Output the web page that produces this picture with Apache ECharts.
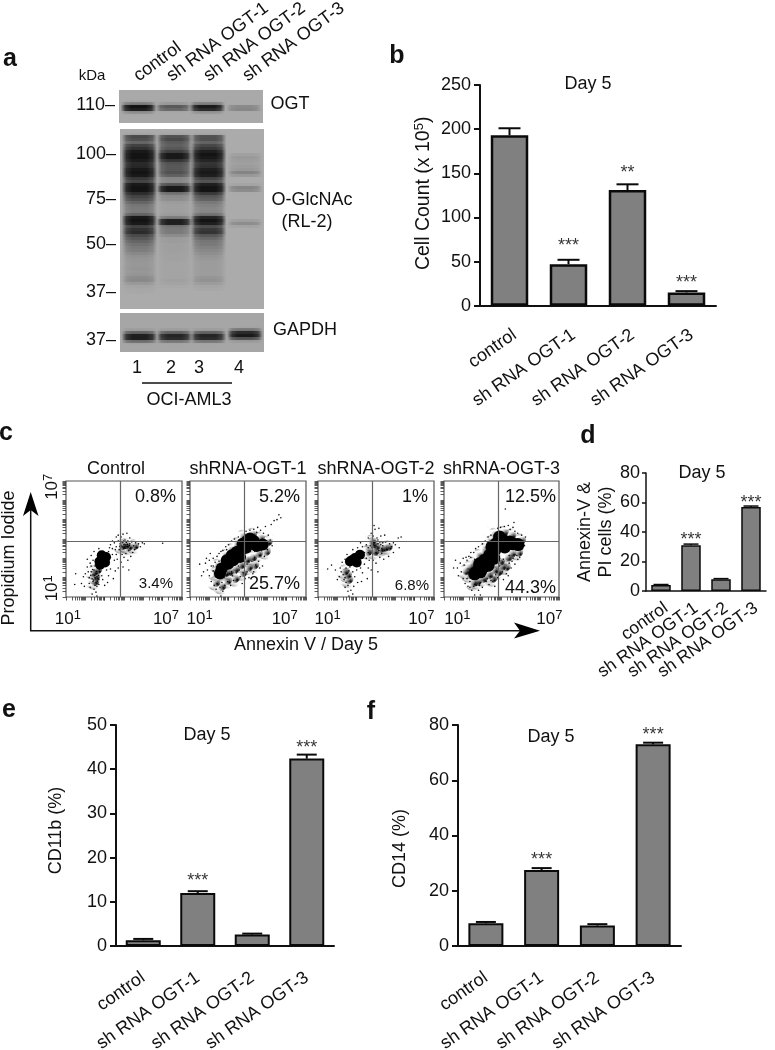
<!DOCTYPE html>
<html><head><meta charset="utf-8"><style>html,body{margin:0;padding:0;background:#fff}#c{width:775px;height:1050px}</style>
<script src="https://cdn.jsdelivr.net/npm/echarts@6/dist/echarts.min.js"></script></head>
<body><div id="c"></div><script>
const categories=['control','sh RNA OGT-1','sh RNA OGT-2','sh RNA OGT-3'];
const FONT='Liberation Sans';
// panel b
const countMean=[193,47,131,15], countHigh=[201,52,137.5,16.5], countStars=[null,'***','**','***'], countStarY=[null,67.6,150,25.6];
// panel d
const apoMean=[4,31,8,57], apoHigh=[4.4,31.8,8.4,57.6], apoStars=[null,'***',null,'***'], apoStarY=[null,34.6,null,59.7];
// panel e
const cd11Mean=[1.3,12,2.6,42.4], cd11High=[1.6,12.4,2.8,43.3], cd11Stars=[null,'***',null,'***'], cd11StarY=[null,14.7,null,44.8];
// panel f
const cd14Mean=[8.2,27.5,7.4,73], cd14High=[8.7,28.2,7.9,73.6], cd14Stars=[null,'***',null,'***'], cd14StarY=[null,31.1,null,76.4];
// panel a: band darkness per 3px row, per lane
const laneCenters=[19.5,54.5,88.5,125];
const ogtRows=[
 [0,0,0,0,.2,1,.9,.1,0,0,0],
 [0,0,0,0,.08,.5,.4,0,0,0,0],
 [0,0,0,0,.2,.95,.8,.08,0,0,0],
 [0,0,0,0,0,.2,.22,0,0,0,0]];
const glcRows=[
 [0,0,.6,.55,.4,.65,.75,.95,1,1,.92,.8,.82,.95,1,.95,.7,.6,.95,1,1,.78,.62,.55,.42,.32,.3,.28,.4,.95,1,.95,.62,.75,.8,.58,.5,.42,.35,.3,.28,.22,.16,.14,.13,.13,.14,.13,.14,.2,.22,.12,.05,.03,.02,0,0,0,0,0],
 [0,0,.55,.6,.48,.45,.5,.65,.95,.95,.72,.52,.5,.5,.55,.45,.22,.2,.5,.95,.95,.3,.2,.18,.1,.08,.08,.08,.1,.25,.9,.9,.3,.3,.3,.2,.1,.1,.08,.08,.08,.07,.06,.06,.05,.05,.05,.05,.05,.05,.07,.05,.02,0,0,0,0,0,0,0],
 [0,0,.55,.55,.42,.6,.7,.9,1,.95,.85,.72,.75,.9,.95,.9,.62,.5,.9,1,1,.68,.5,.45,.3,.25,.22,.22,.32,.85,1,.9,.55,.7,.75,.5,.4,.32,.3,.26,.22,.18,.14,.12,.1,.1,.1,.1,.1,.14,.16,.1,.04,.02,0,0,0,0,0,0],
 [0,0,0,0,0,0,0,0,.07,.12,.1,.08,.1,.12,.25,.12,0,0,.04,.24,.2,0,0,0,0,0,0,0,0,0,.08,.2,.05,0,0,0,0,0,0,0,0,0,0,0,0,0,0,0,0,0,0,0,0,0,0,0,0,0,0,0]];
const gapdhRows=[
 [0,0,0,0,0,.05,.4,.9,.9,.3,0,0,0],
 [0,0,0,0,0,.05,.4,.85,.8,.25,0,0,0],
 [0,0,0,0,0,.05,.4,.85,.8,.25,0,0,0],
 [0,0,0,0,0,.25,.8,.95,.5,.05,0,0,0]];
const ogtKda=[[5,'110']], glcKda=[[8.4,'100'],[23.2,'75'],[38.5,'50'],[54.5,'37']], gapdhKda=[[8.9,'37']];
const laneNumbers=['1','2','3','4'];
// panel c: quadrant gates (decades)
const gateX=3.83, gateY=3.89;
const flowTitles=['Control','shRNA-OGT-1','shRNA-OGT-2','shRNA-OGT-3'];
const upperPct=['0.8%','5.2%','1%','12.5%'], lowerPct=['3.4%','25.7%','6.8%','44.3%'];
// hand-read events (decades): core = solid black area, mid = stippled area, dots = single events
const core1=[[2.9,2.95],[2.73,2.84],[3.07,3.07],[2.85,3.16],[2.76,2.67],[3.02,2.78]];
const mid1=[[2.5,2.1],[2.45,1.85],[2.4,2.35],[2.6,2.45],[4.05,3.75],[3.85,3.7],[4.2,3.65],[4.5,3.7]];
const dots1=[[2.5,2],[2.4,1.8],[2.6,2.2],[2.3,2.3],[2.5,1.6],[2.7,1.9],[2.2,2],[2.45,2.4],[2.65,2.5],[2.35,1.95],[2.55,1.75],[2.75,2.3],[2.15,2.3],[2.5,2.6],[2.3,2.6],[2.4,2.15],[2.6,1.55],[2.45,1.4],[2.55,1.25],[2.35,1.15],[2.7,1.65],[2.85,2.1],[2.9,1.9],[2.1,2.55],[2,2.2],[1.9,2.05],[1.8,1.7],[1.5,2.2],[1.45,1.65],[1.95,1.55],[2.2,1.7],[2.25,1.5],[2.6,2.05],[2.42,1.88],[2.52,1.93],[2.48,2.12],[2.58,2.32],[2.38,2.42],[2.28,2.12],[2.62,1.82],[2.68,2.12],[2.72,2.42],[2.8,2.55],[3.3,3.7],[3.4,3.5],[3.5,3.8],[3.6,3.6],[3.7,3.9],[3.75,3.45],[3.8,3.75],[3.85,4.1],[3.9,3.6],[3.95,3.85],[4,3.5],[4.05,3.95],[4.1,3.7],[4.15,3.6],[4.2,3.9],[4.25,3.4],[4.3,3.75],[4.35,3.55],[4.4,3.85],[4.5,3.65],[4.55,3.45],[4.6,3.8],[4.7,3.55],[4.75,3.75],[4.85,3.6],[4.95,3.8],[5.05,3.75],[3.6,4.1],[3.95,4.25],[4.15,4.3],[4.3,4.05],[3.7,4.2],[4.45,3.3],[3.9,3.2],[3.6,3.2],[3.4,3.2],[3.3,3.05],[3.5,2.9],[3.65,2.95],[3.2,3.35],[3.85,2.8],[4,3.05],[4.1,3.25],[4.2,2.9],[4.35,3.1],[3.95,2.55],[3.7,2.5],[3.55,2.35],[3.3,2.45],[3.2,2.1],[3.45,1.95],[4.25,2.4],[3.15,1.75],[3,1.6],[6,3.78],[4,3.72],[4.05,3.62],[3.9,3.8],[3.85,3.68],[4.12,3.82],[4.18,3.72],[3.98,3.9],[4.28,3.66],[3.78,3.62],[4.08,3.52],[3.4,3.9],[3.55,3.45],[3.25,3.55],[3.15,3.2],[3.1,2.4],[3.2,2.7],[2.4,2.9],[2.25,2.75],[2.1,2.95],[2.3,3.15],[2.45,3.35],[2.7,3.5],[2.6,1.05]];
const core2=[[2.9,2.9],[3.16,3.16],[3.41,3.33],[3.24,2.9],[2.98,2.72],[3.67,3.47],[3.93,3.88],[4.19,3.76],[4.45,3.64],[4.76,3.71],[4.1,4.02],[3.72,3.76],[3.59,3.07],[2.55,2.21],[2.64,2.47],[3.45,3.1],[3.9,3.55],[4.3,3.9]];
const mid2=[[2.3,2.3],[2.8,2.3],[3,2.35],[3.3,2.5],[3.6,2.7],[3.9,3],[4.2,3.1],[4,2.6],[4.5,3.3],[2.4,2.7],[2.8,3.2],[3.1,3.5],[3.4,3.8],[3.7,4.2],[4.2,4.3],[4.6,4.1],[5,3.9],[3.3,2],[2.9,1.9],[2.3,1.8],[2.6,1.6],[3.7,2.3],[4.3,2.7],[4.9,3.4]];
const dots2=[[1.5,2.7],[1.7,2.3],[1.8,2.75],[1.9,2.4],[2,2.9],[2,2.1],[2.1,2.6],[2.1,1.8],[2.2,3],[2.2,2.35],[2.25,1.6],[2.3,2.8],[2.35,1.4],[2.4,3.1],[2.4,1.7],[2.5,3.25],[2.5,2.85],[2.55,1.5],[2.6,3.35],[2.65,1.75],[2.7,1.3],[2.7,3.4],[2.75,2],[2.8,1.6],[2.85,3.6],[2.9,2.1],[2.95,1.8],[3,3.7],[3.05,2.2],[3.1,1.6],[3.15,3.9],[3.2,2.1],[3.25,1.85],[3.3,4],[3.4,2.25],[3.45,1.9],[3.5,4.1],[3.55,2.4],[3.6,2.05],[3.7,1.7],[3.75,2.25],[3.8,2.55],[3.85,1.95],[3.9,4.4],[3.95,2.3],[4,2.85],[4.05,2],[4.1,4.45],[4.15,2.5],[4.2,2.85],[4.3,4.5],[4.3,2.3],[4.35,3.05],[4.4,2.65],[4.45,4.35],[4.5,4.6],[4.55,2.85],[4.6,3.15],[4.65,4.45],[4.7,3.4],[4.75,2.6],[4.8,4.3],[4.85,3.1],[4.9,4.65],[5,3.45],[5.05,4.2],[5.1,3.75],[5.15,3.95],[5.2,4.75],[5.25,3.65],[5.35,4.95],[5.5,5],[5.6,5.25],[5.7,5.1],[2.6,1.05],[2.35,2.05],[2.45,2.55],[2.2,2.6],[2.75,2.65],[2.95,2.45],[3.1,2.6],[3.35,2.7],[3.5,2.95],[3.75,2.95],[3.9,3.3],[4.1,3.35],[4.35,3.35],[2.05,3.25],[1.85,3],[1.6,2.1],[2.9,3.45],[3.15,2.3],[3.5,2.6],[3.95,2.7],[4.25,2.2],[4.6,2.5]];
const core3=[[2.65,2.84],[2.91,3.02],[3.17,3.19],[3,2.78],[2.78,2.92]];
const mid3=[[3.96,3.67],[3.8,3.8],[4.2,3.55],[4.4,3.6],[3.9,3.4],[3.55,3.4],[3.75,3.95],[2.48,2.21],[2.55,1.95],[2.35,2.4],[4.6,3.65]];
const dots3=[[2.5,2.2],[2.4,2],[2.6,2.35],[2.3,2.15],[2.45,1.75],[2.7,2.05],[2.2,2.3],[2.45,2.5],[2.65,2.55],[2.35,1.9],[2.55,1.6],[2.8,2.3],[2.15,2.5],[2.55,1.3],[2.4,1.5],[2.1,2.05],[2,1.9],[1.9,2.4],[1.7,2.65],[1.5,2.45],[2.9,2.05],[3.05,1.75],[2.85,1.55],[2.7,1.35],[3.3,3.6],[3.4,3.3],[3.5,3.7],[3.6,3.55],[3.7,3.2],[3.8,3.55],[3.85,4.15],[3.9,3.85],[4,3.3],[4.05,4.05],[4.1,3.75],[4.15,3.4],[4.2,3.85],[4.3,3.25],[4.35,3.8],[4.45,3.4],[4.5,3.85],[4.6,3.45],[4.7,3.75],[4.8,3.6],[4.9,3.8],[5,3.7],[5.2,3.55],[5.15,4.05],[3.6,4.05],[3.75,4.3],[3.95,4.5],[4.15,4.55],[4.25,4.15],[4.45,4.2],[3.3,3.15],[3.5,3],[3.65,2.9],[3.85,2.9],[4,2.75],[4.2,3.05],[4.4,2.95],[3.4,2.7],[3.6,2.5],[3.2,2.5],[3.3,2.25],[3.75,2.4],[4.1,2.3],[3,2.4],[3.15,2.6],[2.4,2.95],[2.25,2.8],[2.5,3.2],[2.8,3.45],[3.05,3.55],[3.2,3.8],[4.65,3.1],[4.9,3.3],[5.3,4.1],[3.55,1.95],[3.25,1.8],[3.9,4.7],[2.6,1.05],[2.8,1.15],[3.85,3.7],[3.95,3.55],[4.05,3.6],[4.25,3.7],[4.3,3.5],[3.7,3.65],[3.6,3.3],[4.1,3.95],[4.35,3.65]];
const core4=[[2.77,2.38],[2.86,2.72],[3.12,2.9],[3.38,3.16],[3.64,3.41],[3.73,3.76],[4.08,3.93],[4.43,3.84],[4.86,3.71],[4.17,3.59],[3.9,4.1],[3.3,2.64],[2.6,2.2],[2.9,2.3],[3.6,3],[3.05,2.55],[3.9,3.65],[4.6,3.75],[3.5,3.6]];
const mid4=[[4,2.64],[3.6,2.45],[3.9,2.9],[4.3,3.1],[4.5,3.3],[4.2,2.6],[3.3,2.2],[3,2],[2.5,1.8],[2.3,2.2],[2.3,2.6],[2.5,2.8],[2.8,3.2],[3.1,3.5],[3.4,3.9],[3.6,4.3],[4.1,4.4],[4.5,4.25],[5,4],[4.85,3.35],[3.5,2],[2.7,1.85],[2.1,2.4],[3.8,2.35]];
const dots4=[[1.6,2.9],[1.7,2.5],[1.75,2.1],[1.85,2.75],[1.9,2.3],[2,1.95],[2,3],[2.05,2.65],[2.1,1.7],[2.15,3.05],[2.2,1.95],[2.25,1.55],[2.3,3.1],[2.35,1.5],[2.4,3.3],[2.45,1.35],[2.55,3.3],[2.55,1.55],[2.65,3.5],[2.7,1.6],[2.8,1.35],[2.8,3.6],[2.9,1.75],[3,3.75],[3,1.5],[3.15,3.9],[3.2,1.8],[3.3,4.1],[3.35,1.65],[3.45,4.2],[3.55,1.8],[3.65,1.55],[3.8,2],[3.8,4.55],[3.95,4.6],[3.9,2.15],[4.05,2.3],[4.1,1.9],[4.15,4.65],[4.25,2.2],[4.3,2.45],[4.35,4.7],[4.4,2.75],[4.45,4.5],[4.5,2.5],[4.6,4.6],[4.6,3],[4.7,4.4],[4.7,2.7],[4.8,3.15],[4.85,4.3],[4.95,3.05],[5.05,4.2],[5.1,3.5],[5.15,3.85],[5.2,3.65],[5.25,4.1],[4.2,5.55],[4.65,4.85],[1.5,2.5],[2.6,1.1],[2.9,1.1],[2.2,2.9],[2.4,3.05],[2.15,2.2],[2.45,2.45],[2.6,2.95],[2.95,2.85],[3.25,3.3],[3.5,3.55],[3.9,2.6],[4.1,2.95],[4.4,3.15],[4.7,3.2],[3.25,1.95],[3.45,1.85],[3.7,2.15],[2.85,1.6],[2.6,1.65],[2.35,1.8],[4.55,2.85],[4.35,2.1],[4.85,2.95]];
const flowSets=[[core1,mid1,dots1],[core2,mid2,dots2],[core3,mid3,dots3],[core4,mid4,dots4]];
const flowTickDecades=[1,2,3,4,5,6], flowTickSteps=[1,2,3,4,5,6,7,8,9];
const label1Pos=[1.1,1.5,1.5,1.7], label7Pos=[6.17,5.9,6.35,6.5];
const coreSizes=[10,12,10,13];
// stipple tiles for the dense dot areas
const stippleA=[[1,2],[4,1],[8,0],[12,2],[15,1],[2,5],[6,4],[10,5],[13,6],[0,8],[4,8],[8,7],[11,9],[15,8],[2,11],[6,11],[9,12],[13,11],[1,14],[5,14],[10,15],[14,14]];
const stippleB=[[0,0],[3,0],[6,1],[9,0],[12,1],[14,3],[1,3],[4,3],[7,3],[10,3],[2,6],[5,6],[8,5],[11,6],[14,6],[0,9],[3,9],[6,8],[9,9],[12,8],[15,10],[1,12],[4,11],[7,12],[10,11],[13,12],[3,14],[6,14],[9,15],[12,14],[15,14]];
function tile(pts){const c=document.createElement('canvas');c.width=c.height=16;const x=c.getContext('2d');x.fillStyle='#000';pts.forEach(p=>x.fillRect(p[0],p[1],1,1));return{image:c,repeat:'repeat'};}

const boxes=[[66,116],[190,116],[318,116],[444,115]];
const grid=[],xAxis=[],yAxis=[],series=[],graphic=[];
function txt(x,y,text,size,opt={}){graphic.push({type:'text',x,y,rotation:opt.rot||0,silent:true,style:{text,x:0,y:0,fontSize:size,fontFamily:FONT,fontWeight:opt.bold?'bold':'normal',fill:'#111',textAlign:opt.align||'center',textVerticalAlign:opt.va||'middle'}});}

// ---------- bar panels
function barPanel(p){
 const i=grid.length;
 grid.push({left:p.left,top:p.top,width:p.width,height:p.height,containLabel:false,outerBoundsMode:'none'});
 xAxis.push({gridIndex:i,type:'category',data:categories,axisTick:{alignWithLabel:true,length:p.tick,lineStyle:{width:p.lw,color:'#111'}},axisLine:{onZero:false,lineStyle:{width:p.lw,color:'#111'}},axisLabel:{interval:0,rotate:p.rot,verticalAlign:p.catVa||'middle',fontSize:p.catSize,fontFamily:FONT,color:'#111',margin:p.catMargin,hideOverlap:false}});
 yAxis.push({gridIndex:i,type:'value',min:0,max:p.max,interval:p.interval,splitLine:{show:false},axisLine:{show:true,lineStyle:{width:p.lw,color:'#111'}},axisTick:{show:true,length:p.tick,lineStyle:{width:p.lw,color:'#111'}},axisLabel:{fontSize:18,fontFamily:FONT,color:'#111',margin:p.numMargin},name:p.name,nameLocation:'middle',nameGap:p.nameGap,nameRotate:90,nameTextStyle:{fontSize:p.nameSize||18,fontFamily:FONT,color:'#111',lineHeight:21,padding:p.namePad||0,rich:{sup:{fontSize:13,fontFamily:FONT,color:'#111',verticalAlign:'bottom',padding:[0,0,8,0]}}}});
 series.push({type:'bar',xAxisIndex:i,yAxisIndex:i,data:p.mean,barWidth:p.barW,itemStyle:{color:'#808080',borderColor:'#0a0a0a',borderWidth:p.barLw||p.lw},silent:true,z:2});
 series.push({type:'custom',xAxisIndex:i,yAxisIndex:i,z:3,silent:true,data:p.mean.map((m,k)=>[k,m,p.high[k]]),encode:{x:0,y:[1,2]},
  renderItem(par,api){const a=api.coord([api.value(0),api.value(1)]),b=api.coord([api.value(0),api.value(2)]),h=p.cap/2,st={stroke:'#0a0a0a',lineWidth:p.lw,fill:null};
   return{type:'group',children:[{type:'line',shape:{x1:a[0],y1:a[1],x2:b[0],y2:b[1]},style:st},{type:'line',shape:{x1:b[0]-h,y1:b[1],x2:b[0]+h,y2:b[1]},style:st}]};}});
 series.push({type:'scatter',xAxisIndex:i,yAxisIndex:i,symbolSize:0,silent:true,z:4,data:p.stars.map((s,k)=>s?{value:[k,p.starY[k]],star:s}:null).filter(Boolean),label:{show:true,position:'inside',fontSize:18,fontFamily:FONT,color:'#000',formatter:q=>q.data.star}});
 txt(p.titleX,p.titleY,'Day 5',18);
}
barPanel({left:480,top:85,width:236,height:220.7,max:250,interval:50,mean:countMean,high:countHigh,stars:countStars,starY:countStarY,name:'Cell Count (x 10{sup|5})',nameSize:19.5,namePad:[0,0,0,4],nameGap:46,barW:37.5,cap:22,lw:2,barLw:2.5,tick:6,rot:35,catVa:'top',catSize:18,catMargin:20,numMargin:9,titleX:588,titleY:84});
barPanel({left:646,top:473,width:120,height:118,max:80,interval:20,mean:apoMean,high:apoHigh,stars:apoStars,starY:apoStarY,name:'Annexin-V &\nPI cells (%)',nameGap:29,barW:19.5,cap:15,lw:1.5,tick:4,rot:35,catVa:'top',catSize:17.5,catMargin:8,numMargin:6,titleX:702,titleY:473});
barPanel({left:116,top:725,width:218,height:221,max:50,interval:10,mean:cd11Mean,high:cd11High,stars:cd11Stars,starY:cd11StarY,name:'CD11b (%)',namePad:[0,0,0,10],nameGap:49,barW:35,cap:20,lw:2,tick:6,rot:35,catSize:18,catMargin:30,numMargin:9,titleX:207,titleY:735});
barPanel({left:458,top:725,width:223,height:221,max:80,interval:20,mean:cd14Mean,high:cd14High,stars:cd14Stars,starY:cd14StarY,name:'CD14 (%)',namePad:[0,26,0,0],nameGap:47,barW:35,cap:20,lw:2,tick:6,rot:35,catSize:18,catMargin:30,numMargin:9,titleX:551,titleY:737});

// ---------- blots
function blot(p){
 const i=grid.length,n=p.rows[0].length;
 grid.push({left:p.left,top:p.top,width:p.width,height:n*3,show:true,backgroundColor:p.bg,borderWidth:0,outerBoundsMode:'none'});
 xAxis.push({gridIndex:i,type:'value',min:0,max:p.width,show:false});
 yAxis.push({gridIndex:i,type:'value',inverse:true,min:0,max:n,splitLine:{show:false},axisLine:{show:false},axisTick:{show:false},axisLabel:{show:true,customValues:p.kda.map(k=>k[0]),fontSize:18,fontFamily:FONT,color:'#111',margin:4,formatter:(v)=>{const k=p.kda.find(q=>q[0]===v);return k?k[1]+'–':'';}}});
 const data=[];p.rows.forEach((r,l)=>r.forEach((d,row)=>{if(d>0)data.push([laneCenters[l],row,d]);}));
 series.push({type:'custom',xAxisIndex:i,yAxisIndex:i,silent:true,data,encode:{x:0,y:1},renderItem(par,api){
  const c=api.value(0),row=api.value(1),d=api.value(2),a=api.coord([c-18,row]),b=api.coord([c+18,row+1]),rgb='14,14,14';
  return{type:'rect',shape:{x:a[0],y:a[1],width:b[0]-a[0],height:b[1]-a[1]},style:{shadowBlur:4,shadowColor:`rgba(${rgb},${d*.45})`,fill:new echarts.graphic.LinearGradient(0,0,1,0,[{offset:0,color:`rgba(${rgb},0)`},{offset:.14,color:`rgba(${rgb},${d*.75})`},{offset:.3,color:`rgba(${rgb},${d*.95})`},{offset:.7,color:`rgba(${rgb},${d*.95})`},{offset:.86,color:`rgba(${rgb},${d*.75})`},{offset:1,color:`rgba(${rgb},0)`}])}};}});
}
blot({left:119,top:90,width:144,rows:ogtRows,kda:ogtKda,bg:'#a9a9a9'});
blot({left:120,top:129,width:144,rows:glcRows,kda:glcKda,bg:'#ababab'});
blot({left:120,top:313,width:144,rows:gapdhRows,kda:gapdhKda,bg:'#a6a6a6'});

// ---------- flow panels
const flowTicks=flowTickDecades.flatMap(d=>flowTickSteps.map(s=>d+Math.log10(s))).concat([7]);
function sup(v){return '10{s|'+v+'}';}
const richSup={s:{fontSize:13,fontFamily:FONT,color:'#111',verticalAlign:'bottom',padding:[0,0,7,0]}};
const tileA=tile(stippleA),tileB=tile(stippleB);
boxes.forEach((bx,k)=>{
 const i=grid.length;
 grid.push({left:bx[0],top:481,width:bx[1],height:116,show:true,borderColor:'#555',borderWidth:1.2,backgroundColor:'#fff',outerBoundsMode:'none'});
 xAxis.push({gridIndex:i,type:'value',min:1,max:7,splitLine:{show:false},axisLine:{show:false},axisTick:{show:true,customValues:flowTicks,length:3.5,lineStyle:{color:'#333',width:.8}},axisLabel:{show:true,customValues:[label1Pos[k],label7Pos[k]],fontSize:17,fontFamily:FONT,color:'#111',margin:12,rich:richSup,formatter:v=>sup(v<3?1:7)}});
 yAxis.push({gridIndex:i,type:'value',min:1,max:7,splitLine:{show:false},axisLine:{show:false},axisTick:{show:true,customValues:flowTicks,length:3.5,lineStyle:{color:'#333',width:.8}},axisLabel:{show:k===0,customValues:[1.45,6.7],rotate:90,fontSize:17,fontFamily:FONT,color:'#111',margin:4,rich:richSup,formatter:v=>sup(v<3?1:7)}});
 const [core,mid,dots]=flowSets[k];
 series.push({type:'scatter',xAxisIndex:i,yAxisIndex:i,data:dots,symbolSize:1.6,itemStyle:{color:'#111',opacity:1},silent:true,z:2,
  markLine:{silent:true,symbol:'none',label:{show:false},lineStyle:{color:'#666',width:1.2,type:'solid'},data:[{xAxis:gateX},{yAxis:gateY}],z:5}});
 series.push({type:'scatter',xAxisIndex:i,yAxisIndex:i,data:mid,symbolSize:18,itemStyle:{color:tileA,opacity:1},silent:true,z:2});
 series.push({type:'scatter',xAxisIndex:i,yAxisIndex:i,data:mid,symbolSize:11,itemStyle:{color:tileB,opacity:1},silent:true,z:2});
 series.push({type:'scatter',xAxisIndex:i,yAxisIndex:i,data:core,symbolSize:coreSizes[k],itemStyle:{color:'#000',opacity:1},silent:true,z:3});
 txt(bx[0]+bx[1]/2-(k===0?8:0),469,flowTitles[k],18);
});
const uppX=[176,300,428,556],lowX=[173,300,429,556],lowS=[15,18,15,18],lowY=[584,584,586,588];
upperPct.forEach((t,k)=>txt(uppX[k],497,t,18,{align:'right'}));
lowerPct.forEach((t,k)=>txt(lowX[k],lowY[k],t,lowS[k],{align:'right'}));
txt(9,558,'Propidium Iodide',18,{rot:Math.PI/2});
txt(306,645,'Annexin V / Day 5',18);
graphic.push({type:'polyline',silent:true,shape:{points:[[30.7,510],[30.7,630.7],[520,630.7]]},style:{stroke:'#111',lineWidth:1.5,fill:null}});
graphic.push({type:'polygon',silent:true,shape:{points:[[30.7,492],[38.5,516],[30.7,510],[23,516]]},style:{fill:'#000'}});
graphic.push({type:'polygon',silent:true,shape:{points:[[540,630.7],[514,638.5],[520,630.7],[514,622.5]]},style:{fill:'#000'}});

// ---------- panel a text
const letters=[['a',10,59],['b',397,56],['c',6,433],['d',588,436],['e',9,710],['f',371,712]];
letters.forEach(l=>txt(l[1],l[2],l[0],25,{bold:true}));
txt(92,76,'kDa',15);
[['control',141],['sh RNA OGT-1',174],['sh RNA OGT-2',211],['sh RNA OGT-3',250]].forEach(h=>txt(h[1],85,h[0],18,{align:'left',va:'bottom',rot:.63}));
txt(290,104,'OGT',18);txt(312,200,'O-GlcNAc',18);txt(307,222,'(RL-2)',18);txt(305,330,'GAPDH',18);
const laneX=[137,171,199,239];laneNumbers.forEach((t,k)=>txt(laneX[k],368,t,18));
graphic.push({type:'line',silent:true,shape:{x1:142,y1:383,x2:232,y2:383},style:{stroke:'#111',lineWidth:1.5}});
txt(189,400,'OCI-AML3',18);

const chart=echarts.init(document.getElementById('c'),null,{renderer:'canvas'});
chart.setOption({animation:false,backgroundColor:'#fff',textStyle:{fontFamily:FONT},grid,xAxis,yAxis,series,graphic});
</script></body></html>
